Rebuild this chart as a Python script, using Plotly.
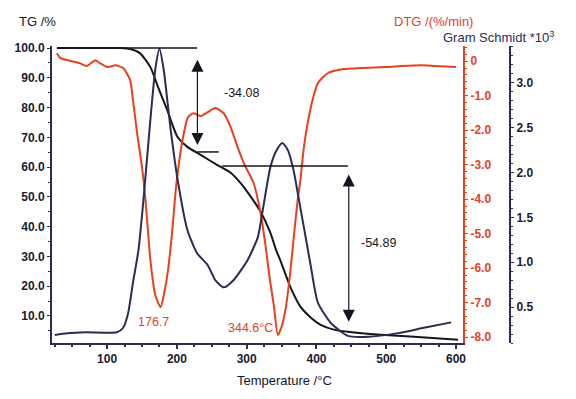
import plotly.graph_objects as go

# ---------------- data ----------------
temp_tg = [28, 119, 133, 147, 162, 173, 186, 201, 215, 234, 258, 277, 291, 306, 320,
           334, 342, 349, 363, 377, 392, 406, 425, 445, 492, 540, 603]
tg = [100.0, 100.0, 99.7, 98.3, 93.6, 86.9, 79.2, 70.1, 66.8, 64.1, 60.7, 58.1, 54.7, 50.0, 45.0,
      37.9, 32.2, 28.2, 19.5, 13.1, 9.4, 7.0, 5.4, 4.7, 3.7, 3.0, 2.0]

temp_dtg = [28, 33, 43, 61, 71, 83, 90, 100, 112, 123, 133, 137, 143, 150, 155, 162, 169,
            176.7, 182, 187, 193, 199, 208, 216, 224, 234, 244, 255, 267, 277, 287, 296,
            310, 320, 327, 333, 339, 344.6, 350, 356, 362, 368, 373, 377, 382, 392, 402,
            416, 439, 497, 550, 569, 600]
dtg = [0.23, 0.09, 0.03, -0.06, -0.14, 0.03, -0.06, -0.17, -0.12, -0.20, -0.55, -1.13, -2.09,
       -3.07, -4.03, -5.77, -6.78, -7.13, -6.70, -6.10, -4.99, -3.60, -2.29, -1.62, -1.51,
       -1.59, -1.48, -1.36, -1.51, -1.91, -2.49, -2.96, -3.54, -4.41, -5.35, -6.30, -7.10,
       -7.94, -7.70, -7.15, -6.20, -5.00, -4.03, -3.45, -2.49, -1.33, -0.64, -0.35, -0.23,
       -0.17, -0.12, -0.14, -0.17]

temp_gs = [25, 43, 71, 114, 123, 130, 137, 145, 152, 162, 169, 175, 181, 191, 201, 215, 229,
           244, 255, 267, 281, 301, 316, 323, 334, 343, 351, 359, 367, 375, 387, 392, 402, 421,
           445, 474, 517, 554, 593]
gs = [0.19, 0.21, 0.22, 0.22, 0.27, 0.43, 0.77, 1.14, 1.69, 2.59, 3.15, 3.38, 3.15, 2.48,
      1.92, 1.36, 1.10, 0.97, 0.80, 0.72, 0.80, 1.02, 1.28, 1.58, 2.06, 2.25, 2.33, 2.25,
      2.03, 1.69, 1.17, 0.95, 0.55, 0.32, 0.18, 0.17, 0.21, 0.27, 0.33]

tg_ticks = [10, 20, 30, 40, 50, 60, 70, 80, 90, 100]
dtg_ticks = [0, -1, -2, -3, -4, -5, -6, -7, -8]
dtg_ticktext = ["0", "-1.0", "-2.0", "-3.0", "-4.0", "-5.0", "-6.0", "-7.0", "-8.0"]
gs_ticks = [0.5, 1.0, 1.5, 2.0, 2.5, 3.0]
temp_ticks = [100, 200, 300, 400, 500, 600]

peak_temps = [176.7, 344.6]
peak_labels = ["176.7", "344.6°C"]

step_levels = [100.0, 65.1, 60.4]
step_start = [32, 229, 265]
step_end = [229, 260, 445]
mass_loss = [-34.08, -54.89]
arrow_temp = [229.4, 446.3]
arrow_top = [96.6, 58.0]
arrow_bottom = [67.4, 8.0]

# ---------------- styles ----------------
RED = "#e8401c"
NAVY = "#2a2c55"
BLACK = "#15151f"
FONT = "Liberation Sans, Arial, sans-serif"

fig = go.Figure()
fig.add_trace(go.Scatter(x=temp_dtg, y=dtg, yaxis="y2", mode="lines",
                         line=dict(color=RED, width=2, shape="spline", smoothing=0.6),
                         showlegend=False))
fig.add_trace(go.Scatter(x=temp_gs, y=gs, yaxis="y3", mode="lines",
                         line=dict(color=NAVY, width=2, shape="spline", smoothing=0.6),
                         showlegend=False))
fig.add_trace(go.Scatter(x=temp_tg, y=tg, yaxis="y", mode="lines",
                         line=dict(color=BLACK, width=2, shape="spline", smoothing=0.6),
                         showlegend=False))

shapes = []
for lvl, x0, x1 in zip(step_levels, step_start, step_end):
    shapes.append(dict(type="line", xref="x", yref="y", x0=x0, x1=x1, y0=lvl, y1=lvl,
                       line=dict(color=BLACK, width=1.5)))

annotations = []
for xa, yt, yb in zip(arrow_temp, arrow_top, arrow_bottom):
    annotations.append(dict(x=xa, y=yb, ax=xa, ay=yt, xref="x", yref="y", axref="x", ayref="y",
                            text="", showarrow=True, arrowhead=2, startarrowhead=2,
                            arrowside="end+start", arrowsize=2.0, startarrowsize=2.0,
                            arrowwidth=1.2, arrowcolor=BLACK))
loss_pos = [(292.6, 84.9), (489.5, 34.6)]
for (lx, ly), val in zip(loss_pos, mass_loss):
    annotations.append(dict(x=lx, y=ly, xref="x", yref="y", text=f"{val:.2f}", showarrow=False,
                            font=dict(family=FONT, size=12.5, color=BLACK)))
peak_pos = [(166, 8.0), (305.5, 6.0)]
for (px, py), txt in zip(peak_pos, peak_labels):
    annotations.append(dict(x=px, y=py, xref="x", yref="y", text=txt, showarrow=False,
                            font=dict(family=FONT, size=12.5, color=RED)))

annotations += [
    dict(x=-0.0306, y=1.084, xref="paper", yref="paper", text="TG /%", showarrow=False,
         font=dict(family=FONT, size=13, color=BLACK), xanchor="center", yanchor="middle"),
    dict(x=0.832, y=1.081, xref="paper", yref="paper", text="DTG /(%/min)", showarrow=False,
         font=dict(family=FONT, size=13, color=RED), xanchor="center", yanchor="middle"),
    dict(x=0.974, y=1.030, xref="paper", yref="paper", text="Gram Schmidt *10<sup>3</sup>",
         showarrow=False, font=dict(family=FONT, size=13, color=NAVY),
         xanchor="center", yanchor="middle"),
    dict(x=0.507, y=-0.125, xref="paper", yref="paper", text="Temperature /°C", showarrow=False,
         font=dict(family=FONT, size=13, color=BLACK), xanchor="center", yanchor="middle"),
]

tickfont = dict(family=FONT, size=12, color="#1a1a33", weight="bold")

fig.update_layout(
    width=576, height=399,
    margin=dict(l=52, r=66, t=46, b=56),
    paper_bgcolor="white", plot_bgcolor="white",
    xaxis=dict(domain=[0, 0.8974], range=[21, 610], tickvals=temp_ticks,
               showline=True, linecolor=NAVY, linewidth=2, ticks="outside", ticklen=4,
               tickcolor=NAVY, tickwidth=1.5, showgrid=False, zeroline=False,
               tickfont=tickfont, minor=dict(dtick=25, ticks="outside", ticklen=2,
                                             tickcolor=NAVY)),
    yaxis=dict(range=[0.9, 100.7], tickvals=tg_ticks, tickformat=".1f",
               showline=True, linecolor=NAVY, linewidth=2, ticks="outside", ticklen=3,
               tickcolor=NAVY, showgrid=False, zeroline=False, tickfont=tickfont,
               minor=dict(dtick=5, ticks="outside", ticklen=2, tickcolor=NAVY)),
    yaxis2=dict(range=[-8.17, 0.44], overlaying="y", side="right", anchor="x",
                tickvals=dtg_ticks, ticktext=dtg_ticktext,
                showline=True, linecolor=RED, linewidth=2, ticks="outside", ticklen=3,
                tickcolor=RED, showgrid=False, zeroline=False,
                tickfont=dict(family=FONT, size=12, color=RED, weight="bold"),
                minor=dict(dtick=0.2, ticks="outside", ticklen=2, tickcolor=RED)),
    yaxis3=dict(range=[0.1, 3.41], overlaying="y", side="right", anchor="free", position=1.0,
                tickvals=gs_ticks, tickformat=".1f",
                showline=True, linecolor=NAVY, linewidth=2, ticks="outside", ticklen=3,
                tickcolor=NAVY, showgrid=False, zeroline=False, tickfont=tickfont,
                minor=dict(dtick=0.1, ticks="outside", ticklen=2, tickcolor=NAVY)),
    shapes=shapes,
    annotations=annotations,
)

fig.write_html("out.html", config={"displayModeBar": False},
               post_script="document.body.style.margin='0';")
